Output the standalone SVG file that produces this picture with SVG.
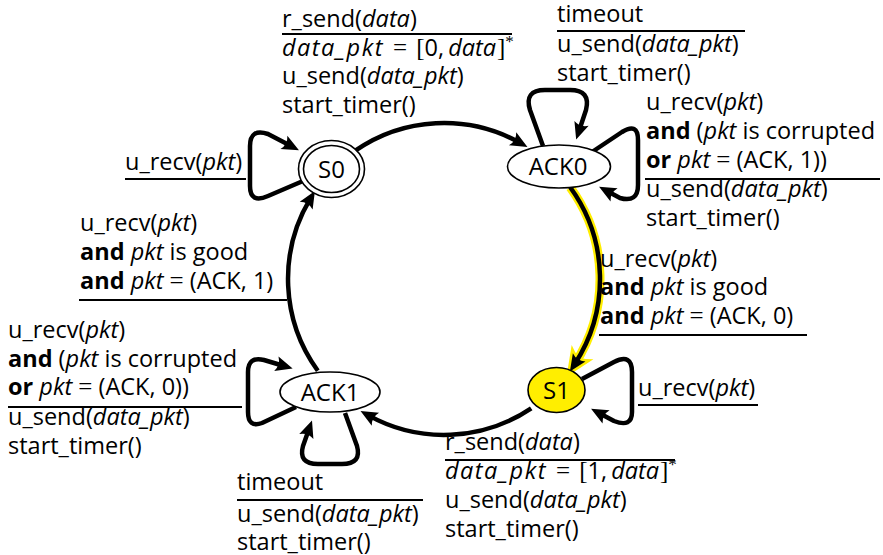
<svg xmlns="http://www.w3.org/2000/svg" width="883" height="555" viewBox="0 0 883 555">
<style>
text{font-family:"Open Sans","Noto Sans",sans-serif;font-size:23.5px;fill:#000}
.i{font-style:italic}
.b{font-weight:bold}
.w{letter-spacing:1.5px}
.m{font-family:"Liberation Serif",serif;font-size:25px}
.sup{font-family:"Liberation Serif",serif;font-size:17px}
.node{fill:#fff;stroke:#000;stroke-width:1.6}
.edge{fill:none;stroke:#000;stroke-width:4.5;stroke-linejoin:round}
.sep{stroke:#000;stroke-width:2}
.nt{font-size:24px;text-anchor:middle}
</style>
<defs>
<marker id="ah" markerUnits="userSpaceOnUse" viewBox="-12 -10 24 20" markerWidth="24" markerHeight="20" refX="0" refY="0" orient="auto" overflow="visible">
<path d="M9,0 L-8,-7.5 Q-3.5,0 -8,7.5 Z" fill="#000"/>
</marker>
<marker id="ahy" markerUnits="userSpaceOnUse" viewBox="-12 -10 24 20" markerWidth="24" markerHeight="20" refX="0" refY="0" orient="auto" overflow="visible">
<path d="M9,0 L-8,-7.5 Q-3.5,0 -8,7.5 Z" fill="#ffee00" stroke="#ffee00" stroke-width="5" stroke-linejoin="miter"/>
</marker>
</defs>

<g id="connectors">
<path class="edge" d="M354.5,151.2 A156,156 0 0 1 519.6,142.6" marker-end="url(#ah)"/>
<path d="M570.2,187.3 A156,156 0 0 1 574.8,364.0" fill="none" stroke="#ffee00" stroke-width="9" marker-end="url(#ahy)"/>
<path class="edge" d="M570.2,187.3 A156,156 0 0 1 574.8,364.0" marker-end="url(#ah)"/>
<path class="edge" d="M531.2,408.3 A156,156 0 0 1 368.4,415.4" marker-end="url(#ah)"/>
<path class="edge" d="M317.8,370.7 A156,156 0 0 1 310.3,198.7" marker-end="url(#ah)"/>
<path class="edge" d="M303,181 L268,196 Q250,204 250,186 L250,146 Q250,128 268,134 L291,146" marker-end="url(#ah)"/>
<path class="edge" d="M543,146 L530,110 Q524,90 545,90 L570,90 Q591,90 586,110 L579,131" marker-end="url(#ah)"/>
<path class="edge" d="M592,152 L622,132 Q638,122 638,140 L638,185 Q638,203 620,198 L607,191" marker-end="url(#ah)"/>
<path class="edge" d="M582,379 L614,362 Q632,353 632,372 L632,412 Q632,428 614,421 L599,413" marker-end="url(#ah)"/>
<path class="edge" d="M296,407 L262,423 Q248,428 248,412 L248,372 Q248,356 264,360 L284,366" marker-end="url(#ah)"/>
<path class="edge" d="M345,413 L357,446 Q362,464 342,464 L318,464 Q298,464 303,446 L309,429" marker-end="url(#ah)"/>
</g>

<g id="S0">
<ellipse class="node" cx="331.5" cy="169" rx="33" ry="28.5"/>
<ellipse class="node" cx="331.5" cy="169" rx="28" ry="23.5"/>
<text class="nt" x="331.5" y="177.5">S0</text>
</g>
<g id="ACK0">
<ellipse class="node" cx="559" cy="166.5" rx="51.5" ry="21.5"/>
<text class="nt" x="558" y="175">ACK0</text>
</g>
<g id="S1">
<ellipse cx="556.5" cy="390" rx="28.5" ry="22.5" fill="#ffee00" stroke="#000" stroke-width="1.6"/>
<text class="nt" x="556.5" y="398.5">S1</text>
</g>
<g id="ACK1">
<ellipse class="node" cx="330" cy="392" rx="50" ry="20"/>
<text class="nt" x="330" y="400.5">ACK1</text>
</g>

<g id="labels">
<text x="282" y="27">r_send(<tspan class="i">data</tspan>)</text>
<line class="sep" x1="282" y1="34" x2="512" y2="34"/>
<text x="282" y="56"><tspan class="i w">data_pkt</tspan><tspan dx="3"> </tspan><tspan class="m">=</tspan><tspan dx="3"> </tspan><tspan class="m">[</tspan>0,<tspan class="i" dx="4">data</tspan><tspan class="m" dx="1">]</tspan><tspan class="sup" dy="-9">*</tspan></text>
<text x="282" y="84">u_send(<tspan class="i">data_pkt</tspan>)</text>
<text x="282" y="113">start_timer()</text>

<text x="557" y="22">timeout</text>
<line class="sep" x1="557" y1="31" x2="745" y2="31"/>
<text x="557" y="52">u_send(<tspan class="i">data_pkt</tspan>)</text>
<text x="557" y="81">start_timer()</text>

<text x="646" y="110">u_recv(<tspan class="i">pkt</tspan>)</text>
<text x="646" y="139"><tspan class="b">and</tspan> (<tspan class="i">pkt</tspan> is corrupted</text>
<text x="646" y="168"><tspan class="b">or</tspan> <tspan class="i">pkt</tspan> <tspan class="m">=</tspan> (ACK, 1))</text>
<line class="sep" x1="645" y1="179" x2="880" y2="179"/>
<text x="646" y="197">u_send(<tspan class="i">data_pkt</tspan>)</text>
<text x="646" y="226">start_timer()</text>

<text x="125" y="170">u_recv(<tspan class="i">pkt</tspan>)</text>
<line class="sep" x1="125" y1="179" x2="246" y2="179"/>

<text x="80" y="231">u_recv(<tspan class="i">pkt</tspan>)</text>
<text x="80" y="260"><tspan class="b">and</tspan> <tspan class="i">pkt</tspan> is good</text>
<text x="80" y="289"><tspan class="b">and</tspan> <tspan class="i">pkt</tspan> <tspan class="m">=</tspan> (ACK, 1)</text>
<line class="sep" x1="79" y1="300" x2="287" y2="300"/>

<text x="8" y="338">u_recv(<tspan class="i">pkt</tspan>)</text>
<text x="8" y="367"><tspan class="b">and</tspan> (<tspan class="i">pkt</tspan> is corrupted</text>
<text x="8" y="395"><tspan class="b">or</tspan> <tspan class="i">pkt</tspan> <tspan class="m">=</tspan> (ACK, 0))</text>
<line class="sep" x1="8" y1="407" x2="242" y2="407"/>
<text x="8" y="425">u_send(<tspan class="i">data_pkt</tspan>)</text>
<text x="8" y="454">start_timer()</text>

<text x="237" y="490">timeout</text>
<line class="sep" x1="237" y1="500" x2="423" y2="500"/>
<text x="237" y="522">u_send(<tspan class="i">data_pkt</tspan>)</text>
<text x="237" y="550">start_timer()</text>

<text x="445" y="450">r_send(<tspan class="i">data</tspan>)</text>
<line class="sep" x1="445" y1="460" x2="675" y2="460"/>
<text x="445" y="479"><tspan class="i w">data_pkt</tspan><tspan dx="3"> </tspan><tspan class="m">=</tspan><tspan dx="3"> </tspan><tspan class="m">[</tspan>1,<tspan class="i" dx="4">data</tspan><tspan class="m" dx="1">]</tspan><tspan class="sup" dy="-9">*</tspan></text>
<text x="445" y="508">u_send(<tspan class="i">data_pkt</tspan>)</text>
<text x="445" y="537">start_timer()</text>

<text x="600" y="267">u_recv(<tspan class="i">pkt</tspan>)</text>
<text x="600" y="295"><tspan class="b">and</tspan> <tspan class="i">pkt</tspan> is good</text>
<text x="600" y="324"><tspan class="b">and</tspan> <tspan class="i">pkt</tspan> <tspan class="m">=</tspan> (ACK, 0)</text>
<line class="sep" x1="599" y1="335" x2="807" y2="335"/>

<text x="638" y="396">u_recv(<tspan class="i">pkt</tspan>)</text>
<line class="sep" x1="638" y1="405" x2="758" y2="405"/>
</g>
</svg>
